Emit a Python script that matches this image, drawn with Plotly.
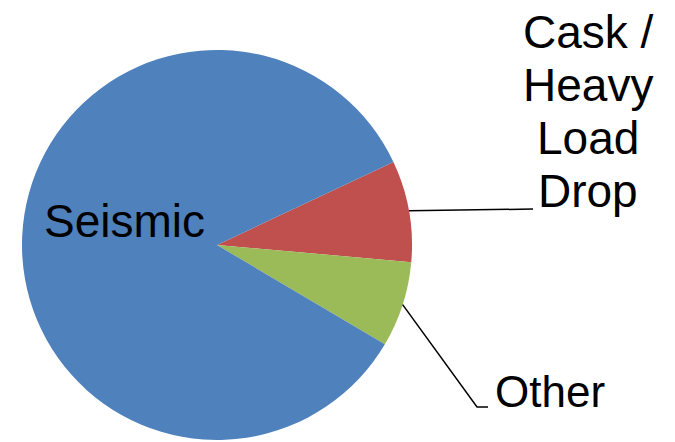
import math
import plotly.graph_objects as go

# Data
labels = ["Cask / Heavy Load Drop", "Other", "Seismic"]
values = [8.4, 7.1, 84.5]
colors = ["#C0504D", "#9BBB59", "#4F81BD"]
cask_lines = ["Cask /", "Heavy", "Load", "Drop"]

W, H = 675, 442
cx, cy, R = 217, 245, 195
rotation = 64.8

fig = go.Figure(go.Pie(
    labels=labels,
    values=values,
    marker=dict(colors=colors, line=dict(width=0)),
    sort=False,
    direction="clockwise",
    rotation=rotation,
    textinfo="none",
    hoverinfo="label+percent",
    showlegend=False,
    domain=dict(x=[(cx - R) / W, (cx + R) / W], y=[1 - (cy + R) / H, 1 - (cy - R) / H]),
))

total = sum(values)


def edge_point(idx):
    start = rotation + 360 * sum(values[:idx]) / total
    mid = start + 360 * values[idx] / 2 / total
    a = math.radians(mid)
    return cx + R * math.sin(a), cy - R * math.cos(a)


def px(x, y):
    return x / W, 1 - y / H


shapes = []
# Cask leader
x0, y0 = edge_point(0)
pts = [(x0, y0), (533, 209)]
path = "M " + " L ".join(f"{px(*p)[0]},{px(*p)[1]}" for p in pts)
shapes.append(dict(type="path", path=path, xref="paper", yref="paper",
                   line=dict(color="black", width=1.5)))
# Other leader
x0, y0 = edge_point(1)
pts = [(x0, y0), (477, 407), (488, 407)]
path = "M " + " L ".join(f"{px(*p)[0]},{px(*p)[1]}" for p in pts)
shapes.append(dict(type="path", path=path, xref="paper", yref="paper",
                   line=dict(color="black", width=1.5)))

font = dict(family="Liberation Sans, Arial, sans-serif", color="black")
annotations = []
annotations.append(dict(text="Seismic", x=124 / W, y=1 - 221 / H, xref="paper", yref="paper",
                        showarrow=False, xanchor="center", yanchor="middle",
                        font=dict(size=46, **font)))
for i, t in enumerate(cask_lines):
    yy = 32 + 53 * i
    annotations.append(dict(text=t, x=588 / W, y=1 - yy / H, xref="paper", yref="paper",
                            showarrow=False, xanchor="center", yanchor="middle",
                            font=dict(size=46, **font)))
annotations.append(dict(text="Other", x=550 / W, y=1 - 391 / H, xref="paper", yref="paper",
                        showarrow=False, xanchor="center", yanchor="middle",
                        font=dict(size=44, **font)))

fig.update_layout(
    width=W, height=H,
    margin=dict(l=0, r=0, t=0, b=0),
    paper_bgcolor="white",
    plot_bgcolor="white",
    shapes=shapes,
    annotations=annotations,
)

fig.write_html("out.html")
